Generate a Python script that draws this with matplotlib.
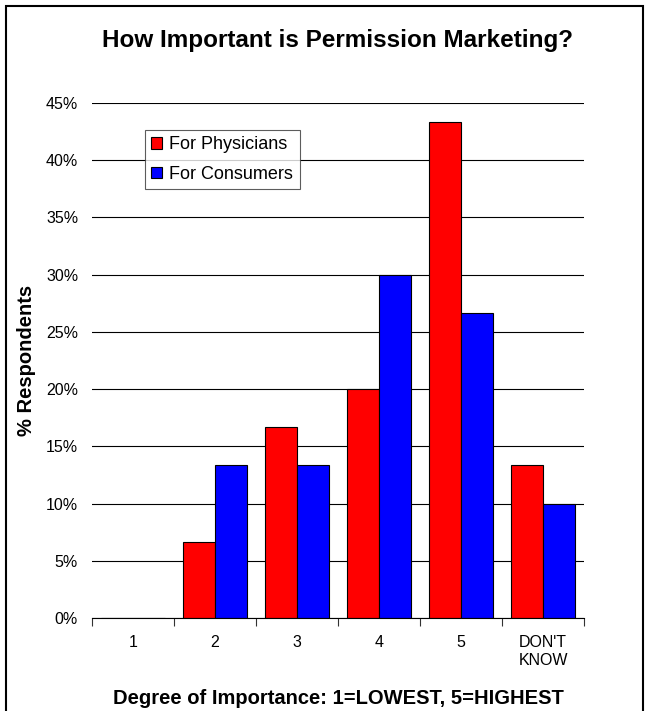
import numpy as np
import matplotlib
matplotlib.use('Agg')
import matplotlib.pyplot as plt
from matplotlib.patches import Rectangle
from matplotlib.ticker import FixedLocator, PercentFormatter

plt.rcParams['font.family'] = ['Liberation Sans', 'DejaVu Sans']

categories = ['1', '2', '3', '4', '5', "DON'T\nKNOW"]
physicians = [0.0, 6.67, 16.67, 20.0, 43.33, 13.33]
consumers = [0.0, 13.33, 13.33, 30.0, 26.67, 10.0]
yticks = [0, 5, 10, 15, 20, 25, 30, 35, 40, 45]

W, H = 645, 711
fig = plt.figure(figsize=(W / 100, H / 100), dpi=100)
ax = fig.add_axes([92 / W, 1 - 618 / H, 492 / W, 515 / H])

x = np.arange(len(categories))
w = 0.39
ax.bar(x - w / 2, physicians, w, color='#ff0000', edgecolor='black',
       linewidth=0.8, label='For Physicians', zorder=3)
ax.bar(x + w / 2, consumers, w, color='#0000ff', edgecolor='black',
       linewidth=0.8, label='For Consumers', zorder=3)

ax.set_xlim(-0.5, len(categories) - 0.5)
ax.set_ylim(0, 45)

# tick marks between categories, labels under the centres
ax.xaxis.set_major_locator(FixedLocator(np.arange(len(categories) + 1) - 0.5))
ax.xaxis.set_minor_locator(FixedLocator(x))
ax.set_xticklabels([], minor=False)
ax.set_xticklabels(categories, minor=True, fontsize=11.5, linespacing=1.25)
ax.tick_params(axis='x', which='major', direction='out', length=6, width=0.8,
               color='#333333')
ax.tick_params(axis='x', which='minor', length=0, pad=12)

ax.set_yticks(yticks)
ax.yaxis.set_major_formatter(PercentFormatter(decimals=0))
ax.tick_params(axis='y', length=0, pad=10, labelsize=11.5)
ax.grid(axis='y', color='black', linewidth=0.8, zorder=0)

for s in ['top', 'right', 'left']:
    ax.spines[s].set_visible(False)
ax.spines['bottom'].set_linewidth(0.8)
ax.spines['bottom'].set_zorder(4)

fig.text(338 / W, 1 - 698 / H, 'Degree of Importance: 1=LOWEST, 5=HIGHEST',
         ha='center', va='center', fontsize=14.5, fontweight='bold')
fig.text(27 / W, 1 - 360 / H, '% Respondents', rotation=90,
         ha='center', va='center', fontsize=14.5, fontweight='bold')
fig.text(338 / W, 1 - 40 / H, 'How Important is Permission Marketing?',
         ha='center', va='center', fontsize=17.5, fontweight='bold')

leg = ax.legend(loc='upper left', bbox_to_anchor=(53 / 492, 488 / 515),
                fontsize=13, frameon=True, fancybox=False, edgecolor='#333333',
                handlelength=0.6, handleheight=0.6, handletextpad=0.4,
                borderpad=0.35, labelspacing=0.7, borderaxespad=0)
leg.get_frame().set_linewidth(0.8)
leg.set_zorder(5)

# outer chart border
fig.add_artist(Rectangle((6 / W, -0.02), 637 / W, 1.02 - 6 / H,
                         transform=fig.transFigure, fill=False,
                         edgecolor='black', linewidth=1.5))

fig.savefig('out.png', dpi=100)
